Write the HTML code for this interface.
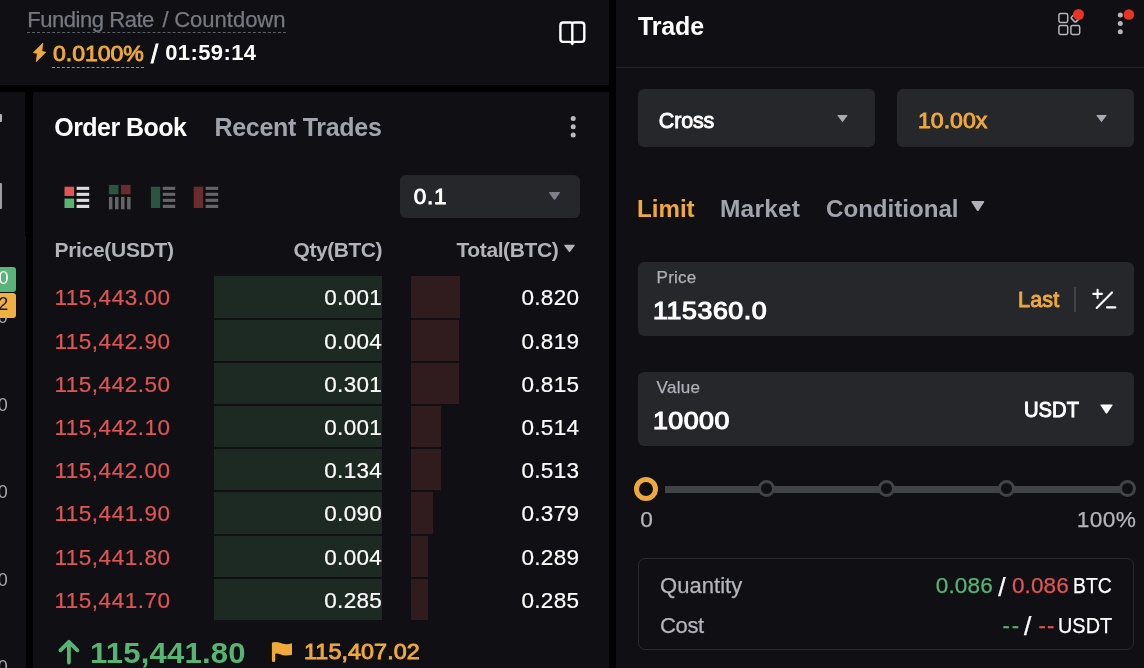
<!DOCTYPE html>
<html>
<head>
<meta charset="utf-8">
<title>Trade</title>
<style>
*{margin:0;padding:0;box-sizing:border-box}
html,body{width:1144px;height:668px;overflow:hidden;background:#000}
body{font-family:"Liberation Sans",sans-serif;color:#fff;position:relative}
.abs{position:absolute}
.panel{position:absolute;background:#101014}
.t{position:absolute;white-space:nowrap;line-height:1}
.b{font-weight:bold}
.r{-webkit-text-stroke:0.25px currentColor}
.sb{font-weight:normal;-webkit-text-stroke:0.9px currentColor}
.sb2{font-weight:normal;-webkit-text-stroke:1.15px currentColor}
.org{color:#f0a93b}
.grn{color:#57b574}
.red{color:#e15554}
.gry{color:#a1a3ad}
.box{position:absolute;background:#26272b;border-radius:6px}
.gb{position:absolute;left:214px;width:168px;height:42px;background:#1c2a23}
.rb{position:absolute;left:411px;height:42px;background:#301b1e}
.row .t{font-size:22.5px;letter-spacing:0.3px;-webkit-text-stroke:0.2px currentColor}
.row .red{letter-spacing:0.5px}
svg{position:absolute;overflow:visible}
</style>
</head>
<body>
<div id="root" style="position:absolute;left:0;top:0;width:1144px;height:668px;will-change:transform">
<!-- panels -->
<div class="panel" id="p-top" style="left:0;top:0;width:609px;height:85px"></div>
<div class="panel" id="p-left" style="left:0;top:92px;width:25px;height:144px"></div>
<div class="panel" id="p-left2" style="left:0;top:236px;width:26px;height:432px"></div>
<div class="panel" id="p-book" style="left:33px;top:92px;width:576px;height:576px"></div>
<div class="panel" id="p-trade" style="left:616px;top:0;width:528px;height:668px"></div>

<!-- SECTION: funding -->
<span class="t r" id="t-fund" style="left:27.2px;top:8.7px;font-size:22px;letter-spacing:-0.45px;color:#777981">Funding Rate</span>
<span class="t r" id="t-fund2" style="left:162.5px;top:8.7px;font-size:22px;color:#777981">/</span>
<span class="t r" id="t-fund3" style="left:174.2px;top:8.7px;font-size:22px;letter-spacing:0px;color:#777981">Countdown</span>
<div class="abs" style="left:27px;top:31.6px;width:259px;height:0;border-top:1.5px dashed #5c5e65"></div>
<svg id="i-bolt" style="left:30px;top:40px" width="20" height="25" viewBox="30 40 20 25"><path d="M42.9 43.1 L33.2 52.55 L37.35 53.5 L36.2 61.7 L45.9 52.25 L41.8 51.35 Z" fill="#f0a93b" stroke="#f0a93b" stroke-width="0.7" stroke-linejoin="round"/></svg>
<span class="t sb org" id="t-rate" style="left:52.5px;top:42.9px;font-size:22px;letter-spacing:-0.05px;transform:scaleX(1.05);transform-origin:0 0">0.0100%</span>
<div class="abs" style="left:52px;top:66.5px;width:92px;height:0;border-top:1.5px dashed #c08a35"></div>
<span class="t sb" id="t-cd0" style="left:150.9px;top:42.3px;font-size:25.5px">/</span><span class="t b" id="t-cd" style="left:165.2px;top:42.1px;font-size:22px;letter-spacing:0.4px">01:59:14</span>
<svg id="i-book" style="left:556px;top:18px" width="32" height="30" viewBox="556 18 32 30"><path d="M572.3 24 Q572.3 22.5 570.3 22.5 L563.2 22.5 Q560.4 22.5 560.4 25.3 L560.4 39.1 Q560.4 41.9 563.2 41.9 L569 41.9 Q572.3 41.9 572.3 44.1 M572.3 24 Q572.3 22.5 574.3 22.5 L581.5 22.5 Q584.3 22.5 584.3 25.3 L584.3 39.1 Q584.3 41.9 581.5 41.9 L575.6 41.9 Q572.3 41.9 572.3 44.1 M572.3 24 L572.3 44.1" fill="none" stroke="#fff" stroke-width="2.4" stroke-linejoin="round" stroke-linecap="round"/></svg>
<!-- SECTION: leftstrip -->
<div class="abs" style="left:0;top:114px;width:2px;height:8px;background:#b0b0b8;border-radius:0 1px 1px 0"></div>
<div class="abs" style="left:0;top:183px;width:2px;height:26px;background:#9a9ba3;border-radius:0 1px 1px 0"></div>
<span class="t" style="left:-2.3px;top:307.6px;font-size:18px;color:#a8a8ae">0</span>
<span class="t" id="t-z2" style="left:-2.3px;top:395.6px;font-size:18px;color:#a8a8ae">0</span>
<span class="t" style="left:-2.3px;top:482.6px;font-size:18px;color:#a8a8ae">0</span>
<span class="t" style="left:-2.3px;top:570.6px;font-size:18px;color:#a8a8ae">0</span>
<span class="t" style="left:-2.3px;top:657.6px;font-size:18px;color:#a8a8ae">0</span>
<div class="abs" style="left:0;top:267px;width:16px;height:25px;background:#58b478;border-radius:0 3px 3px 0"></div>
<span class="t" id="t-b0" style="left:-1.4px;top:269px;font-size:18px;color:#fff">0</span>
<div class="abs" style="left:0;top:293px;width:16px;height:25px;background:#f0b041;border-radius:0 3px 3px 0"></div>
<span class="t" id="t-b2" style="left:-1.7px;top:295px;font-size:18px;color:#15161a">2</span>
<!-- SECTION: bookhead -->
<span class="t b" id="t-ob" style="left:54.3px;top:114.6px;font-size:25px;letter-spacing:-0.55px">Order Book</span>
<span class="t b" id="t-rt" style="left:214.5px;top:114.6px;font-size:25px;color:#a1a3ad;letter-spacing:-0.3px">Recent Trades</span>
<svg id="i-dots1" style="left:569px;top:114px" width="8" height="26" viewBox="0 0 8 26"><circle cx="4.2" cy="4.5" r="2.5" fill="#b8b9c1"/><circle cx="4.2" cy="12.7" r="2.5" fill="#b8b9c1"/><circle cx="4.2" cy="20.9" r="2.5" fill="#b8b9c1"/></svg>
<svg id="i-modes" style="left:60px;top:182px" width="164" height="30" viewBox="60 182 164 30">
<rect x="64.5" y="186.7" width="9.6" height="9.3" fill="#e15554"/><rect x="64.5" y="198.6" width="9.6" height="9.4" fill="#57b574"/>
<g fill="#dcdcde"><rect x="76.6" y="186.8" width="12.6" height="3.1"/><rect x="76.6" y="192.8" width="12.6" height="3.1"/><rect x="76.6" y="198.8" width="12.6" height="3.1"/><rect x="76.6" y="204.8" width="12.6" height="3.2"/></g>
<rect x="108.9" y="184.9" width="9.6" height="9.4" fill="#2c5540"/><rect x="121" y="184.9" width="9.6" height="9.4" fill="#6a2d2e"/>
<g fill="#646568"><rect x="108.9" y="196.9" width="3.5" height="12.4"/><rect x="115" y="196.9" width="3.5" height="12.4"/><rect x="121" y="196.9" width="3.5" height="12.4"/><rect x="127.1" y="196.9" width="3.5" height="12.4"/></g>
<rect x="150.9" y="186.7" width="9.3" height="21.3" fill="#2c5540"/>
<g fill="#646568"><rect x="162.8" y="186.8" width="12.4" height="3.1"/><rect x="162.8" y="192.8" width="12.4" height="3.1"/><rect x="162.8" y="198.8" width="12.4" height="3.1"/><rect x="162.8" y="204.8" width="12.4" height="3.2"/></g>
<rect x="193.7" y="186.7" width="9.4" height="21.3" fill="#6a2d2e"/>
<g fill="#646568"><rect x="205.6" y="186.8" width="12.6" height="3.1"/><rect x="205.6" y="192.8" width="12.6" height="3.1"/><rect x="205.6" y="198.8" width="12.6" height="3.1"/><rect x="205.6" y="204.8" width="12.6" height="3.2"/></g>
</svg>
<div class="box" id="b-step" style="left:400px;top:175px;width:180px;height:43px;border-radius:6px"></div>
<span class="t sb" id="t-step" style="left:413.8px;top:186.1px;font-size:22.5px;letter-spacing:0.7px">0.1</span>
<svg id="i-tri1" style="left:548px;top:191px" width="13" height="10" viewBox="0 0 13 10"><path d="M1.6 1 L11.4 1 Q12.4 1 11.8 1.9 L7.2 8.4 Q6.5 9.2 5.8 8.4 L1.2 1.9 Q0.6 1 1.6 1Z" fill="#7e8089"/></svg>
<span class="t b" id="t-hp" style="left:54.5px;top:239.0px;font-size:21px;letter-spacing:-0.3px;color:#b3b4bb">Price(USDT)</span>
<span class="t b" id="t-hq" style="left:293.5px;top:239.0px;font-size:21px;letter-spacing:-0.45px;color:#b3b4bb">Qty(BTC)</span>
<span class="t b" id="t-ht" style="left:456.5px;top:239.0px;font-size:21px;letter-spacing:-0.4px;color:#b3b4bb">Total(BTC)</span>
<svg id="i-tri2" style="left:563px;top:244px" width="13" height="9" viewBox="0 0 13 9"><path d="M1.8 0.8 L11.2 0.8 Q12.2 0.8 11.6 1.7 L7.1 7.8 Q6.5 8.5 5.9 7.8 L1.4 1.7 Q0.8 0.8 1.8 0.8Z" fill="#b3b4bb"/></svg>
<!-- SECTION: rows -->
<div class="row">
<div class="gb" style="top:276.1px;height:41.9px"></div><div class="rb" style="top:276.1px;height:41.9px;width:48.8px"></div><span class="t red" id="t-p0" style="left:54.5px;top:286.60px">115,443.00</span><span class="t" id="t-q0" style="right:761.9px;top:286.60px">0.001</span><span class="t" id="t-t0" style="right:564.7px;top:286.60px">0.820</span>
<div class="gb" style="top:320px;height:41.0px"></div><div class="rb" style="top:320px;height:41.0px;width:48.2px"></div><span class="t red" id="t-p1" style="left:54.5px;top:330.60px">115,442.90</span><span class="t" id="t-q1" style="right:761.9px;top:330.60px">0.004</span><span class="t" id="t-t1" style="right:564.7px;top:330.60px">0.819</span>
<div class="gb" style="top:363px;height:41.0px"></div><div class="rb" style="top:363px;height:41.0px;width:47.9px"></div><span class="t red" id="t-p2" style="left:54.5px;top:373.60px">115,442.50</span><span class="t" id="t-q2" style="right:761.9px;top:373.60px">0.301</span><span class="t" id="t-t2" style="right:564.7px;top:373.60px">0.815</span>
<div class="gb" style="top:406px;height:41.0px"></div><div class="rb" style="top:406px;height:41.0px;width:30.1px"></div><span class="t red" id="t-p3" style="left:54.5px;top:416.60px">115,442.10</span><span class="t" id="t-q3" style="right:761.9px;top:416.60px">0.001</span><span class="t" id="t-t3" style="right:564.7px;top:416.60px">0.514</span>
<div class="gb" style="top:449px;height:41.0px"></div><div class="rb" style="top:449px;height:41.0px;width:30.1px"></div><span class="t red" id="t-p4" style="left:54.5px;top:459.60px">115,442.00</span><span class="t" id="t-q4" style="right:761.9px;top:459.60px">0.134</span><span class="t" id="t-t4" style="right:564.7px;top:459.60px">0.513</span>
<div class="gb" style="top:492px;height:42.0px"></div><div class="rb" style="top:492px;height:42.0px;width:22px"></div><span class="t red" id="t-p5" style="left:54.5px;top:502.60px">115,441.90</span><span class="t" id="t-q5" style="right:761.9px;top:502.60px">0.090</span><span class="t" id="t-t5" style="right:564.7px;top:502.60px">0.379</span>
<div class="gb" style="top:536px;height:41.0px"></div><div class="rb" style="top:536px;height:41.0px;width:17.2px"></div><span class="t red" id="t-p6" style="left:54.5px;top:546.60px">115,441.80</span><span class="t" id="t-q6" style="right:761.9px;top:546.60px">0.004</span><span class="t" id="t-t6" style="right:564.7px;top:546.60px">0.289</span>
<div class="gb" style="top:579px;height:40.9px"></div><div class="rb" style="top:579px;height:40.9px;width:17px"></div><span class="t red" id="t-p7" style="left:54.5px;top:589.60px">115,441.70</span><span class="t" id="t-q7" style="right:761.9px;top:589.60px">0.285</span><span class="t" id="t-t7" style="right:564.7px;top:589.60px">0.285</span>
</div>
<!-- SECTION: lastprice -->
<svg id="i-up" style="left:56px;top:637px" width="26" height="30" viewBox="0 0 26 30"><path d="M12.9 25.6 L12.9 4.8 M4.4 13.3 L12.9 4.8 L21.4 13.3" fill="none" stroke="#57b574" stroke-width="3.8" stroke-linecap="round" stroke-linejoin="round"/></svg>
<span class="t b grn" id="t-last" style="left:90.2px;top:639.1px;font-size:29px;letter-spacing:0.2px;transform:scaleX(1.07);transform-origin:0 0">115,441.80</span>
<svg id="i-flag" style="left:270px;top:641px" width="24" height="22" viewBox="0 0 24 22"><path d="M1.9 1.7 C4 0.9 7 0.6 10 1.7 C13 2.9 16.5 3.9 22 2.3 L22 13.8 C16.5 15.4 13 14.3 10 13.2 C8 12.5 6.5 12.4 5.25 12.9 L5.25 19.7 Q5.25 20.9 3.6 20.9 Q1.9 20.9 1.9 19.7 Z" fill="#f0a93b"/></svg>
<span class="t sb org" id="t-mark" style="left:303.9px;top:640.5px;font-size:22px;letter-spacing:0.08px;transform:scaleX(1.06);transform-origin:0 0">115,407.02</span>
<!-- SECTION: tradehead -->
<span class="t b" id="t-trade" style="left:638px;top:13.7px;font-size:25px;letter-spacing:-0.15px">Trade</span>
<svg id="i-grid" style="left:1056px;top:6px" width="32" height="32" viewBox="1056 6 32 32"><g fill="none" stroke="#b4b5bd" stroke-width="1.5"><rect x="1058.9" y="13.6" width="8.8" height="8.8" rx="1.6"/><rect x="1058.9" y="25.6" width="8.8" height="8.8" rx="1.6"/><rect x="1070.9" y="25.6" width="8.8" height="8.8" rx="1.6"/><rect x="1072.1" y="14.5" width="6.6" height="6.6" rx="1.2" transform="rotate(45 1075.4 17.8)"/></g><circle cx="1078.5" cy="14.5" r="5.5" fill="#ea3323"/></svg>
<svg id="i-dots2" style="left:1114px;top:6px" width="26" height="32" viewBox="1114 6 26 32"><g fill="#b4b5bd"><circle cx="1120.3" cy="15" r="2.5"/><circle cx="1120.3" cy="23.4" r="2.5"/><circle cx="1120.3" cy="31.8" r="2.5"/></g><circle cx="1128.9" cy="14.5" r="5.3" fill="#ea3323"/></svg>
<div class="abs" style="left:616px;top:67px;width:528px;height:1px;background:#25262b"></div>
<div class="box" id="b-cross" style="left:638px;top:89px;width:237px;height:58px"></div>
<div class="box" id="b-lev" style="left:897px;top:89px;width:237px;height:58px"></div>
<span class="t sb" id="t-cross" style="left:658.8px;top:110.8px;font-size:21.5px;letter-spacing:-0.15px">Cross</span>
<span class="t sb org" id="t-lev" style="left:918px;top:110.4px;font-size:22px;letter-spacing:0px;transform:scaleX(1.05);transform-origin:0 0">10.00x</span>
<svg id="i-tri3" style="left:836px;top:114px" width="13" height="9" viewBox="0 0 13 9"><path d="M2 1 L11 1 Q12 1 11.4 1.8 L7.1 7.6 Q6.5 8.3 5.9 7.6 L1.6 1.8 Q1 1 2 1Z" fill="#a9aab3"/></svg>
<svg id="i-tri4" style="left:1095px;top:114px" width="13" height="9" viewBox="0 0 13 9"><path d="M2 1 L11 1 Q12 1 11.4 1.8 L7.1 7.6 Q6.5 8.3 5.9 7.6 L1.6 1.8 Q1 1 2 1Z" fill="#a9aab3"/></svg>
<span class="t b org" id="t-limit" style="left:637.4px;top:196.9px;font-size:24.5px;transform:scaleX(0.985);transform-origin:0 0">Limit</span>
<span class="t b gry" id="t-market" style="left:720px;top:196.9px;font-size:24.5px;letter-spacing:0.2px">Market</span>
<span class="t b gry" id="t-cond" style="left:825.8px;top:196.9px;font-size:24.5px;transform:scaleX(0.984);transform-origin:0 0">Conditional</span>
<svg id="i-tri5" style="left:970px;top:200px" width="16" height="13" viewBox="0 0 16 13"><path d="M2.3 0.9 L13.3 0.9 Q14.8 0.9 14 2.2 L8.7 10.5 Q7.8 11.7 6.9 10.5 L1.6 2.2 Q0.8 0.9 2.3 0.9Z" fill="#b0b1ba"/></svg>
<!-- SECTION: inputs -->
<div class="box" id="b-price" style="left:638px;top:262px;width:496px;height:74px"></div>
<span class="t r" id="t-lprice" style="left:656.6px;top:268.5px;font-size:17px;color:#b0b1b8;letter-spacing:0.25px">Price</span>
<span class="t sb2" id="t-vprice" style="left:653px;top:299.1px;font-size:24.3px;letter-spacing:0.55px;transform:scaleX(1.1);transform-origin:0 0">115360.0</span>
<span class="t sb org" id="t-lastbtn" style="left:1018.1px;top:289.8px;font-size:21.5px;letter-spacing:0.15px">Last</span>
<div class="abs" style="left:1074px;top:287px;width:2px;height:25px;background:#414247"></div>
<svg id="i-pm" style="left:1090px;top:286px" width="30" height="26" viewBox="1090 286 30 26"><g fill="none" stroke="#fff" stroke-width="2.1" stroke-linecap="round"><path d="M1093.3 293.9 L1101.9 293.9 M1097.6 289.9 L1097.6 298.1"/><path d="M1112 292.4 L1096.7 307.9"/><path d="M1107 307.4 L1115.3 307.4"/></g></svg>
<div class="box" id="b-value" style="left:638px;top:372px;width:496px;height:74px"></div>
<span class="t r" id="t-lvalue" style="left:656.6px;top:378.5px;font-size:17px;color:#b0b1b8;letter-spacing:0.3px">Value</span>
<span class="t sb2" id="t-vvalue" style="left:653px;top:409.1px;font-size:24.3px;letter-spacing:0.45px;transform:scaleX(1.1);transform-origin:0 0">10000</span>
<span class="t sb" id="t-usdt" style="left:1024px;top:399.8px;font-size:21.5px;transform:scaleX(0.94);transform-origin:0 0">USDT</span>
<svg id="i-tri6" style="left:1099px;top:403px" width="15" height="12" viewBox="0 0 15 12"><path d="M2.2 1.4 L12.8 1.4 Q14.2 1.4 13.4 2.6 L8.4 10 Q7.5 11.1 6.6 10 L1.6 2.6 Q0.8 1.4 2.2 1.4Z" fill="#fff"/></svg>
<!-- SECTION: slider -->
<div class="abs" id="d-track" style="left:665px;top:485.5px;width:463px;height:7px;background:#424347"></div>
<div class="abs" style="left:758.3px;top:480.4px;width:17px;height:17px;border-radius:50%;border:3px solid #424347;background:#101014"></div>
<div class="abs" style="left:878.3px;top:480.4px;width:17px;height:17px;border-radius:50%;border:3px solid #424347;background:#101014"></div>
<div class="abs" style="left:998.3px;top:480.4px;width:17px;height:17px;border-radius:50%;border:3px solid #424347;background:#101014"></div>
<div class="abs" style="left:1118.5px;top:480.4px;width:17px;height:17px;border-radius:50%;border:3px solid #424347;background:#101014"></div>
<div class="abs" id="d-handle" style="left:634.1px;top:476.8px;width:24.2px;height:24.2px;border-radius:50%;border:5.3px solid #eda93b;background:#101014"></div>
<span class="t r" id="t-s0" style="left:640.2px;top:508.3px;font-size:22.7px;color:#b5b6bc">0</span>
<span class="t r" id="t-s100" style="left:1076.8px;top:508.3px;font-size:22.7px;color:#b5b6bc;letter-spacing:0.35px">100%</span>
<!-- SECTION: summary -->
<div class="abs" id="b-sum" style="left:638px;top:558px;width:496px;height:92px;border:1px solid #2a2b30;border-radius:7px"></div>
<span class="t r" id="t-qty" style="left:660px;top:574.7px;font-size:22px;color:#b5b6bd;letter-spacing:0.05px">Quantity</span>
<span class="t r" id="t-cost" style="left:660px;top:614.8px;font-size:22px;color:#b5b6bd;transform:scaleX(1);transform-origin:0 0;letter-spacing:-0.35px">Cost</span>
<span class="t r grn" id="t-qv1" style="left:935.8px;top:574.6px;font-size:22.5px;letter-spacing:0.15px">0.086</span>
<span class="t r" id="t-qv2" style="left:998.2px;top:573.8px;font-size:26.5px">/</span>
<span class="t r red" id="t-qv3" style="left:1011.9px;top:574.6px;font-size:22.5px;letter-spacing:0.15px">0.086</span>
<span class="t r" id="t-qv4" style="left:1072.8px;top:575.8px;font-size:21.5px;transform:scaleX(0.9);transform-origin:0 0">BTC</span>
<span class="t r grn" id="t-cv1" style="left:1002.5px;top:614.6px;font-size:22px;letter-spacing:1.8px">--</span>
<span class="t r" id="t-cv2" style="left:1024px;top:613.3px;font-size:26.5px">/</span>
<span class="t r red" id="t-cv3" style="left:1038.4px;top:614.6px;font-size:22px;letter-spacing:1.3px">--</span>
<span class="t r" id="t-cv4" style="left:1057.8px;top:615.5px;font-size:21.5px;transform:scaleX(0.925);transform-origin:0 0">USDT</span>
</div>
</body>
</html>
